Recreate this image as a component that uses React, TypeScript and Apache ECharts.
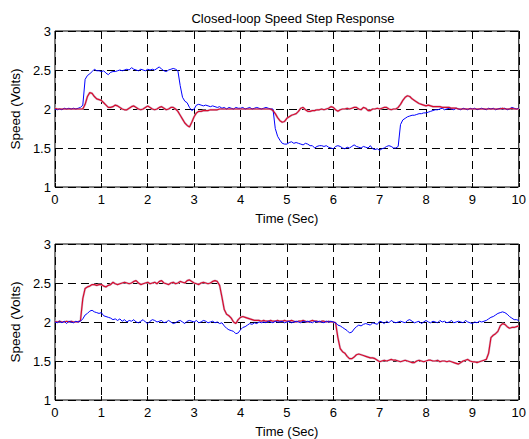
import React, { useEffect, useRef } from "react";
import * as echarts from "echarts";

const X_TICKS = [0, 1, 2, 3, 4, 5, 6, 7, 8, 9, 10];
const Y_TICKS = [1, 1.5, 2, 2.5, 3];
const TITLE = "Closed-loop Speed Step Response";
const X_NAME = "Time (Sec)";
const Y_NAME = "Speed (Volts)";

// sample times, 0.05 s apart
const TIME: number[] = Array.from({ length: 201 }, (_, i) => Math.round(i * 5) / 100);

// top plot, blue trace
const topBlue = [
  2.00, 1.99, 2.00, 1.99, 2.01, 2.00, 2.01, 2.00, 2.01, 2.00,
  2.01, 2.02, 2.05, 2.38, 2.43, 2.45, 2.48, 2.51, 2.49, 2.49,
  2.48, 2.49, 2.46, 2.44, 2.47, 2.48, 2.48, 2.49, 2.50, 2.49,
  2.50, 2.51, 2.50, 2.53, 2.51, 2.50, 2.49, 2.51, 2.50, 2.49,
  2.51, 2.50, 2.51, 2.50, 2.52, 2.54, 2.51, 2.49, 2.48, 2.50,
  2.51, 2.52, 2.51, 2.49, 2.30, 2.15, 2.10, 2.08, 2.02, 1.98,
  2.00, 2.05, 2.06, 2.05, 2.04, 2.05, 2.04, 2.03, 2.04, 2.03,
  2.02, 2.03, 2.01, 2.02, 2.00, 2.02, 2.01, 2.00, 2.02, 2.01,
  2.01, 2.02, 2.00, 2.01, 2.02, 2.00, 2.01, 2.02, 2.01, 2.00,
  2.01, 2.02, 2.01, 2.00, 2.00, 1.75, 1.65, 1.60, 1.56, 1.55,
  1.55, 1.57, 1.58, 1.56, 1.57, 1.56, 1.55, 1.54, 1.56, 1.55,
  1.53, 1.53, 1.50, 1.52, 1.53, 1.53, 1.52, 1.53, 1.51, 1.50,
  1.49, 1.52, 1.53, 1.52, 1.50, 1.49, 1.51, 1.50, 1.52, 1.54,
  1.52, 1.51, 1.50, 1.52, 1.51, 1.50, 1.53, 1.49, 1.48, 1.49,
  1.47, 1.49, 1.50, 1.52, 1.53, 1.52, 1.50, 1.50, 1.52, 1.80,
  1.86, 1.88, 1.90, 1.91, 1.92, 1.92, 1.93, 1.94, 1.94, 1.95,
  1.95, 1.96, 1.97, 1.98, 1.99, 1.99, 2.00, 2.01, 1.99, 2.00,
  2.01, 2.00, 1.99, 2.01, 2.00, 1.99, 2.01, 2.00, 1.99, 2.01,
  2.00, 2.01, 1.99, 2.00, 2.01, 2.00, 1.99, 2.01, 2.00, 2.01,
  1.99, 2.00, 2.01, 2.00, 2.01, 1.99, 2.00, 2.02, 2.01, 2.00,
  2.01,
];

// top plot, red trace
const topRed = [
  2.01, 2.00, 2.00, 2.00, 2.00, 2.00, 2.00, 2.00, 2.00, 2.00,
  2.00, 2.00, 2.00, 2.06, 2.16, 2.21, 2.20, 2.16, 2.13, 2.12,
  2.11, 2.08, 2.05, 2.02, 2.02, 2.03, 2.05, 2.04, 2.02, 2.00,
  1.99, 1.99, 2.01, 2.03, 2.04, 2.02, 2.00, 1.99, 2.00, 2.02,
  2.04, 2.02, 2.00, 1.99, 2.00, 2.02, 2.03, 2.01, 1.99, 2.00,
  2.02, 2.02, 2.00, 1.97, 1.92, 1.87, 1.82, 1.79, 1.77, 1.83,
  1.90, 1.95, 1.97, 1.97, 1.98, 1.98, 1.98, 1.99, 1.99, 1.99,
  1.99, 2.00, 2.00, 2.00, 2.00, 2.00, 2.00, 2.00, 2.00, 2.00,
  2.00, 2.00, 2.00, 2.00, 2.00, 2.00, 2.00, 2.00, 2.00, 2.00,
  2.00, 2.00, 2.00, 2.00, 1.98, 1.94, 1.89, 1.85, 1.83, 1.84,
  1.88, 1.90, 1.92, 1.93, 1.94, 1.97, 2.01, 2.02, 1.99, 1.97,
  1.97, 1.98, 1.98, 1.99, 1.99, 2.00, 1.99, 2.00, 2.01, 2.03,
  2.02, 1.99, 1.97, 1.99, 2.00, 2.00, 2.01, 2.00, 2.01, 2.02,
  2.02, 2.00, 1.99, 2.02, 2.01, 1.98, 1.98, 2.00, 2.00, 2.01,
  2.00, 2.01, 2.02, 2.02, 2.00, 1.99, 2.00, 2.00, 2.02, 2.06,
  2.11, 2.15, 2.17, 2.16, 2.13, 2.11, 2.09, 2.07, 2.06, 2.05,
  2.04, 2.05, 2.04, 2.03, 2.03, 2.03, 2.03, 2.02, 2.02, 2.02,
  2.02, 2.01, 2.01, 2.01, 2.00, 2.00, 2.00, 2.00, 2.00, 2.00,
  2.00, 2.00, 2.00, 2.00, 2.00, 2.00, 2.00, 2.00, 2.00, 2.00,
  2.00, 2.00, 2.00, 2.01, 2.00, 2.00, 2.00, 2.01, 2.00, 2.00,
  2.00,
];

// bottom plot, red trace
const bottomRed = [
  2.01, 2.00, 2.01, 2.00, 2.00, 2.01, 2.00, 2.01, 2.00, 2.00,
  2.00, 2.02, 2.30, 2.43, 2.45, 2.46, 2.48, 2.48, 2.47, 2.48,
  2.48, 2.46, 2.45, 2.47, 2.48, 2.51, 2.49, 2.48, 2.49, 2.50,
  2.51, 2.50, 2.49, 2.50, 2.52, 2.53, 2.50, 2.48, 2.49, 2.50,
  2.51, 2.49, 2.50, 2.51, 2.49, 2.52, 2.53, 2.50, 2.49, 2.48,
  2.50, 2.51, 2.49, 2.50, 2.52, 2.51, 2.50, 2.53, 2.54, 2.52,
  2.50, 2.49, 2.48, 2.50, 2.51, 2.50, 2.49, 2.50, 2.52, 2.53,
  2.52, 2.47, 2.32, 2.16, 2.10, 2.08, 2.05, 2.00, 1.98, 2.03,
  2.06, 2.07, 2.06, 2.05, 2.04, 2.03, 2.02, 2.02, 2.02, 2.01,
  2.02, 2.01, 2.01, 2.02, 2.01, 2.01, 2.02, 2.01, 2.01, 2.02,
  2.01, 2.01, 2.02, 2.01, 2.00, 2.01, 2.01, 2.02, 2.01, 2.00,
  2.01, 2.02, 2.01, 2.01, 2.00, 2.01, 2.01, 2.00, 2.01, 2.00,
  2.00, 1.99, 1.80, 1.66, 1.62, 1.60, 1.56, 1.53, 1.53, 1.55,
  1.58, 1.59, 1.58, 1.57, 1.56, 1.55, 1.54, 1.54, 1.53, 1.51,
  1.49, 1.50, 1.51, 1.50, 1.51, 1.52, 1.51, 1.51, 1.50, 1.49,
  1.50, 1.51, 1.50, 1.49, 1.48, 1.48, 1.50, 1.51, 1.50, 1.49,
  1.50, 1.51, 1.51, 1.50, 1.50, 1.51, 1.49, 1.50, 1.50, 1.49,
  1.50, 1.49, 1.48, 1.47, 1.46, 1.48, 1.50, 1.51, 1.52, 1.50,
  1.49, 1.49, 1.48, 1.49, 1.50, 1.51, 1.52, 1.60, 1.80, 1.83,
  1.85, 1.88, 1.95, 1.98, 1.97, 1.94, 1.92, 1.93, 1.93, 1.94,
  1.95,
];

// bottom plot, blue trace
const bottomBlue = [
  2.00, 1.99, 2.01, 1.99, 2.01, 1.98, 2.01, 2.00, 1.99, 2.01,
  2.00, 2.01, 2.04, 2.09, 2.11, 2.14, 2.15, 2.13, 2.12, 2.11,
  2.12, 2.08, 2.07, 2.06, 2.05, 2.03, 2.04, 2.02, 2.04, 2.01,
  2.03, 2.00, 2.02, 2.01, 2.03, 2.00, 1.99, 2.01, 2.03, 2.00,
  1.98, 2.01, 2.03, 2.02, 2.00, 2.01, 2.02, 1.99, 2.00, 2.02,
  2.00, 1.98, 1.99, 2.01, 2.02, 2.00, 1.98, 2.01, 2.02, 2.01,
  2.00, 2.02, 1.99, 2.00, 2.02, 2.01, 1.99, 2.00, 2.01, 1.99,
  2.00, 1.98, 1.99, 1.95, 1.92, 1.90, 1.89, 1.88, 1.85, 1.86,
  1.90, 1.93, 1.94, 1.96, 1.98, 1.97, 1.99, 1.98, 2.00, 1.99,
  2.00, 1.99, 2.01, 2.00, 1.99, 2.01, 2.00, 2.00, 2.01, 1.99,
  2.00, 2.01, 1.99, 2.00, 2.01, 2.00, 1.99, 2.01, 2.00, 2.01,
  2.00, 1.99, 2.01, 2.00, 2.01, 2.00, 1.99, 2.01, 2.00, 2.01,
  2.00, 1.99, 1.96, 1.95, 1.93, 1.91, 1.89, 1.86, 1.87, 1.91,
  1.94, 1.96, 1.95, 1.97, 1.98, 1.97, 1.96, 1.99, 1.98, 1.97,
  2.01, 2.00, 1.98, 2.01, 1.99, 2.02, 2.00, 1.99, 2.00, 2.01,
  2.00, 1.99, 2.02, 2.03, 2.01, 1.99, 2.00, 2.01, 1.98, 2.00,
  2.02, 2.00, 1.99, 2.01, 2.00, 1.99, 2.02, 2.00, 2.01, 1.99,
  2.00, 2.02, 1.99, 2.00, 2.01, 2.00, 1.99, 2.02, 2.00, 1.99,
  1.98, 2.00, 1.99, 2.01, 2.00, 2.01, 2.02, 2.04, 2.06, 2.07,
  2.09, 2.11, 2.12, 2.13, 2.12, 2.10, 2.07, 2.05, 2.03, 2.03,
  2.02,
];

const FONT = "'Liberation Sans', Arial, sans-serif";
const BLUE = "#0000ff";
const RED = "#d80a2c";
const HALO = "#d2c0d4";

const pairs = (vals: number[]) => TIME.map((t, i) => [t, vals[i]]);

export default function App() {
  const ref = useRef<HTMLDivElement>(null);
  useEffect(() => {
    if (!ref.current) return;
    const chart = echarts.init(ref.current, undefined, { renderer: "svg" });
    const grids = [
      { left: 54, top: 31, width: 468, height: 156 },
      { left: 54, top: 244, width: 468, height: 156 },
    ];
    const gridLine = {
      show: true,
      lineStyle: { color: "#000", type: [8, 5] as any, width: 1 },
    };
    const xAxis = [0, 1].map((g) => ({
      type: "value" as const,
      gridIndex: g,
      min: X_TICKS[0],
      max: X_TICKS[X_TICKS.length - 1],
      interval: 1,
      name: X_NAME,
      nameLocation: "middle" as const,
      nameGap: 25,
      nameTextStyle: { fontFamily: FONT, fontSize: 13, color: "#000" },
      axisLine: { show: false },
      axisTick: { show: true, inside: true, length: 4, lineStyle: { color: "#000" } },
      axisLabel: { fontFamily: FONT, fontSize: 13, color: "#000", margin: 6 },
      splitLine: gridLine,
    }));
    const yAxis = [0, 1].map((g) => ({
      type: "value" as const,
      gridIndex: g,
      min: Y_TICKS[0],
      max: Y_TICKS[Y_TICKS.length - 1],
      interval: 0.5,
      name: Y_NAME,
      nameLocation: "middle" as const,
      nameGap: 31,
      nameTextStyle: { fontFamily: FONT, fontSize: 13.5, color: "#000" },
      axisLine: { show: false },
      axisTick: { show: true, inside: true, length: 4, lineStyle: { color: "#000" } },
      axisLabel: { fontFamily: FONT, fontSize: 13, color: "#000", margin: 4 },
      splitLine: gridLine,
    }));
    const line = (g: number, vals: number[], color: string, width: number, z: number) => ({
      type: "line" as const,
      xAxisIndex: g,
      yAxisIndex: g,
      data: pairs(vals),
      showSymbol: false,
      symbol: "none",
      z,
      lineStyle: { color, width },
      itemStyle: { color },
    });
    chart.setOption({
      animation: false,
      backgroundColor: "#fff",
      title: {
        text: TITLE,
        left: 288,
        top: 7,
        textAlign: "center",
        textStyle: { fontFamily: FONT, fontSize: 13, fontWeight: "normal", color: "#000" },
      },
      grid: grids.map((g) => ({ ...g, show: true, borderColor: "#000", borderWidth: 1, backgroundColor: "transparent" })),
      xAxis,
      yAxis,
      series: [
        line(0, topBlue, BLUE, 1, 3),
        line(0, topRed, HALO, 2.2, 2),
        line(0, topRed, RED, 1.2, 4),
        line(1, bottomRed, HALO, 2.2, 2),
        line(1, bottomRed, RED, 1.2, 3),
        line(1, bottomBlue, BLUE, 1, 4),
      ],
    });
    return () => chart.dispose();
  }, []);
  return (
    <div
      ref={ref}
      style={{ position: "fixed", left: 0, top: 0, width: 529, height: 439, background: "#fff" }}
    />
  );
}
